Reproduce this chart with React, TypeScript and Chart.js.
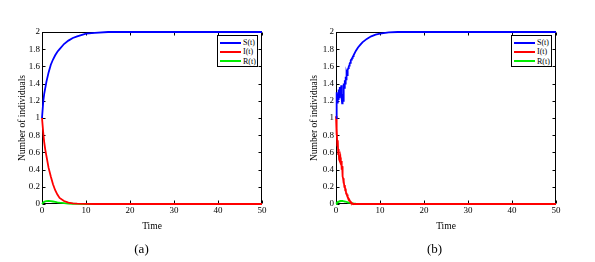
import React, { useEffect, useRef } from "react";
import { Chart, registerables } from "chart.js";

Chart.register(...registerables);

// ---------- Data ----------
const xTicks = [0, 10, 20, 30, 40, 50];
const yTickStep = 0.2;

// Panel (a): deterministic model
const timeA = [0, 0.3, 0.5, 0.75, 1, 1.5, 2, 2.5, 3, 3.5, 4, 5, 6, 7, 8, 10, 12, 15, 20, 30, 40, 50];
const susA = [1.0, 1.2, 1.28, 1.35, 1.42, 1.53, 1.62, 1.68, 1.73, 1.77, 1.8, 1.86, 1.9, 1.93, 1.95, 1.98, 1.99, 2.0, 2.0, 2.0, 2.0, 2.0];
const infA = [1.0, 0.82, 0.72, 0.63, 0.56, 0.42, 0.32, 0.23, 0.16, 0.11, 0.07, 0.035, 0.015, 0.008, 0.004, 0.001, 0, 0, 0, 0, 0, 0];
const recA = [0, 0.018, 0.025, 0.03, 0.033, 0.035, 0.033, 0.029, 0.025, 0.02, 0.016, 0.01, 0.005, 0.003, 0.001, 0, 0, 0, 0, 0, 0, 0];

// Panel (b): stochastic model
const timeB = [
  0, 0.1, 0.2, 0.3, 0.4, 0.5, 0.6, 0.7, 0.8, 0.9,
  1.0, 1.1, 1.2, 1.3, 1.4, 1.5, 1.6, 1.7, 1.8, 1.9,
  2.0, 2.1, 2.2, 2.3, 2.4, 2.5, 2.6, 2.7, 2.8, 2.9,
  3.0, 3.1, 3.2, 3.3, 3.4, 3.5, 3.6, 3.7, 3.8, 3.9,
  4.0, 4.5, 5, 5.5, 6, 7, 8, 9, 10, 12, 14, 16, 20, 30, 40, 50,
];
const susB = [
  1.0, 1.22, 1.3, 1.18, 1.28, 1.22, 1.33, 1.24, 1.3, 1.36,
  1.26, 1.32, 1.38, 1.22, 1.17, 1.28, 1.2, 1.36, 1.4, 1.35,
  1.44, 1.4, 1.48, 1.45, 1.52, 1.5, 1.55, 1.56, 1.58, 1.6,
  1.61, 1.63, 1.64, 1.65, 1.67, 1.68, 1.69, 1.7, 1.71, 1.72,
  1.73, 1.78, 1.82, 1.85, 1.88, 1.92, 1.95, 1.97, 1.98, 1.995, 2.0, 2.0, 2.0, 2.0, 2.0, 2.0,
];
const infB = [
  1.02, 0.8, 0.88, 0.68, 0.74, 0.58, 0.64, 0.52, 0.56, 0.5,
  0.54, 0.46, 0.5, 0.4, 0.44, 0.32, 0.3, 0.24, 0.27, 0.2,
  0.22, 0.16, 0.18, 0.12, 0.13, 0.1, 0.11, 0.08, 0.07, 0.06,
  0.05, 0.04, 0.035, 0.03, 0.02, 0.015, 0.01, 0.008, 0.005, 0.003,
  0.002, 0, 0, 0, 0, 0, 0, 0, 0, 0, 0, 0, 0, 0, 0, 0,
];
const recB = [
  0, 0.008, 0.014, 0.019, 0.023, 0.026, 0.029, 0.031, 0.033, 0.034,
  0.035, 0.036, 0.036, 0.036, 0.036, 0.035, 0.034, 0.033, 0.032, 0.031,
  0.03, 0.028, 0.027, 0.025, 0.024, 0.022, 0.021, 0.019, 0.018, 0.017,
  0.016, 0.014, 0.013, 0.012, 0.011, 0.01, 0.009, 0.008, 0.007, 0.006,
  0.005, 0.003, 0.002, 0.001, 0, 0, 0, 0, 0, 0, 0, 0, 0, 0, 0, 0,
];

const seriesLabels = ["S(t)", "I(t)", "R(t)"];
const seriesColors = ["#0000ff", "#ff0000", "#00ee00"];
const panelLabels = ["(a)", "(b)"];

const SERIF = "'Liberation Serif', 'Times New Roman', serif";

const boxPlugin = {
  id: "matlabBox",
  beforeDatasetsDraw(chart: any) {
    const { ctx, chartArea, scales } = chart;
    const { left, top, right, bottom } = chartArea;
    ctx.save();
    ctx.strokeStyle = "#000";
    ctx.lineWidth = 1;
    const L = Math.round(left) + 0.5;
    const R = Math.round(right) - 0.5;
    const T = Math.round(top) + 0.5;
    const B = Math.round(bottom) - 0.5;
    ctx.strokeRect(L, T, R - L, B - T);
    const len = 3;
    ctx.beginPath();
    for (const v of xTicks) {
      const px = Math.round(scales.x.getPixelForValue(v)) + 0.5;
      ctx.moveTo(px, B);
      ctx.lineTo(px, B - len);
      ctx.moveTo(px, T);
      ctx.lineTo(px, T + len);
    }
    for (let k = 0; k <= 10; k++) {
      const py = Math.round(scales.y.getPixelForValue(k * yTickStep)) + 0.5;
      ctx.moveTo(L, py);
      ctx.lineTo(L + len, py);
      ctx.moveTo(R, py);
      ctx.lineTo(R - len, py);
    }
    ctx.stroke();
    ctx.restore();
  },
};

type PanelProps = {
  left: number;
  width: number;
  padRight: number;
  titlePad: number;
  times: number[];
  s: number[];
  i: number[];
  r: number[];
};

function Panel({ left, width, padRight, titlePad, times, s, i, r }: PanelProps) {
  const ref = useRef<HTMLCanvasElement | null>(null);
  useEffect(() => {
    if (!ref.current) return;
    const tickFont = { family: SERIF, size: 9 };
    const titleFont = { family: SERIF, size: 9.5 };
    const series = [s, i, r];
    const chart = new Chart(ref.current, {
      type: "line",
      data: {
        datasets: series.map((vals, k) => ({
          label: seriesLabels[k],
          data: times.map((t, j) => ({ x: t, y: vals[j] })),
          borderColor: seriesColors[k],
          borderWidth: 1.8,
          pointRadius: 0,
          tension: 0,
          fill: false,
          clip: false as any,
        })),
      },
      options: {
        responsive: false,
        animation: false,
        layout: { padding: { left: 0, right: padRight, top: 32, bottom: 30 } },
        plugins: { legend: { display: false }, tooltip: { enabled: false } },
        scales: {
          x: {
            type: "linear",
            min: 0,
            max: 50,
            ticks: { stepSize: 10, font: tickFont, color: "#000", padding: 1, maxRotation: 0 },
            grid: { display: false, drawTicks: false },
            border: { display: false },
            title: { display: true, text: "Time", font: titleFont, color: "#000", padding: { top: 0, bottom: 0 } },
            afterFit(sc: any) {
              sc.height = 28;
            },
          },
          y: {
            type: "linear",
            min: 0,
            max: 2,
            ticks: {
              stepSize: yTickStep,
              font: tickFont,
              color: "#000",
              padding: 2,
              callback: (v: any) => String(Number(Number(v).toFixed(1))),
            },
            grid: { display: false, drawTicks: false },
            border: { display: false },
            title: {
              display: true,
              text: "Number of individuals",
              font: titleFont,
              color: "#000",
              padding: { top: titlePad, bottom: 0 },
            },
            afterFit(sc: any) {
              sc.width = 42;
            },
          },
        },
      } as any,
      plugins: [boxPlugin],
    });
    return () => chart.destroy();
  }, []);
  return (
    <canvas
      ref={ref}
      width={width}
      height={262}
      style={{ position: "absolute", left, top: 0, width, height: 262 }}
    />
  );
}

function Legend({ left }: { left: number }) {
  return (
    <div
      style={{
        position: "absolute",
        left,
        top: 35,
        width: 39,
        height: 28,
        border: "1px solid #000",
        background: "#fff",
        paddingTop: 2,
        boxSizing: "content-box",
        fontFamily: SERIF,
        fontSize: 8,
        color: "#000",
      }}
    >
      {seriesLabels.map((lab, k) => (
        <div key={lab} style={{ display: "flex", alignItems: "center", height: 9.3 }}>
          <div style={{ width: 21, height: 2, marginLeft: 2, background: seriesColors[k] }} />
          <span style={{ marginLeft: 2, lineHeight: "9px" }}>{lab}</span>
        </div>
      ))}
    </div>
  );
}

export default function App() {
  return (
    <div
      style={{
        position: "fixed",
        left: 0,
        top: 0,
        width: 595,
        height: 262,
        background: "#fff",
        overflow: "hidden",
      }}
    >
      <Panel left={0} width={297} padRight={35} titlePad={17} times={timeA} s={susA} i={infA} r={recA} />
      <Panel left={294} width={301} padRight={39} titlePad={15} times={timeB} s={susB} i={infB} r={recB} />
      <Legend left={217} />
      <Legend left={511} />
      {panelLabels.map((lab, k) => (
        <div
          key={lab}
          style={{
            position: "absolute",
            left: k === 0 ? 121.5 : 414.5,
            top: 241,
            width: 40,
            textAlign: "center",
            fontFamily: SERIF,
            fontSize: 13,
            lineHeight: "16px",
            color: "#000",
          }}
        >
          {lab}
        </div>
      ))}
    </div>
  );
}
